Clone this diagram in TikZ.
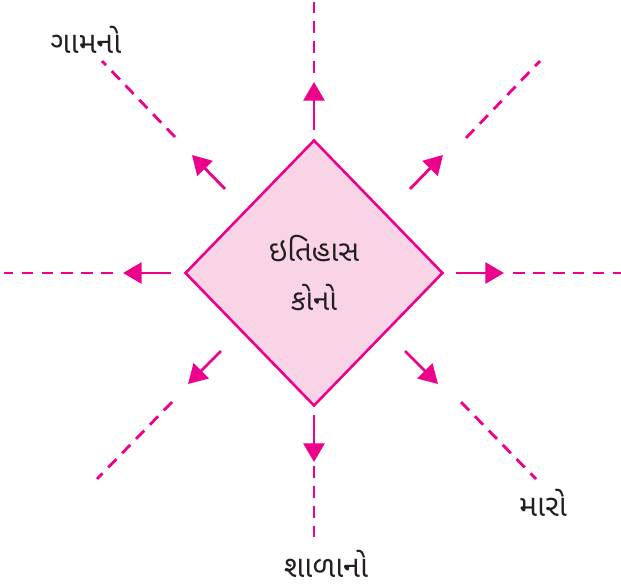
\documentclass[tikz,border=0pt]{standalone}
\usepackage{fontspec}
\newfontfamily\gujfont[Script=Gujarati]{Noto Sans Gujarati UI}
\usetikzlibrary{shapes.geometric, arrows.meta}
\definecolor{HubPink}{RGB}{236,0,140}
\definecolor{HubFill}{RGB}{249,212,230}
\definecolor{HubText}{RGB}{35,31,32}

\begin{document}
\begin{tikzpicture}[x=0.03cm, y=-0.03cm,
          hub/.style={diamond, draw=HubPink, fill=HubFill, line width=2.2pt,
                      minimum width=7.74cm, minimum height=7.98cm, inner sep=0pt,
                      font=\gujfont\fontsize{25}{42}\selectfont, text=HubText, align=center},
          word/.style={font=\gujfont\fontsize{26}{30}\selectfont, text=HubText, inner sep=0pt},
          ray/.style={-{Triangle[length=16pt, width=18pt]}, line width=2.4pt, HubPink},
          trail/.style={line width=2.4pt, HubPink, dash pattern=on 10pt off 7pt}
        ]
        \useasboundingbox (0,0) rectangle (621,587);

        \node[hub] (hub) at (314,273) {ઇતિહાસ\\કોનો};

        % Labels
        \node[word] (gam)   at (86,40)   {ગામનો};
        \node[word] (maro)  at (543,503) {મારો};
        \node[word] (shala) at (326,564) {શાળાનો};

        % Solid arrows (start, tip)
        \coordinate (n0) at (314,130); \coordinate (n1) at (314,82);
        \coordinate (s0) at (314,415); \coordinate (s1) at (314,462);
        \coordinate (w0) at (171,273); \coordinate (w1) at (123,273);
        \coordinate (e0) at (456,273); \coordinate (e1) at (504,273);
        \coordinate (nw0) at (225,189); \coordinate (nw1) at (192,155);
        \coordinate (ne0) at (410,189); \coordinate (ne1) at (443,155);
        \coordinate (sw0) at (221,351); \coordinate (sw1) at (188,384);
        \coordinate (se0) at (405,351); \coordinate (se1) at (438,384);

        \draw[ray] (n0) -- (n1);
        \draw[ray] (s0) -- (s1);
        \draw[ray] (w0) -- (w1);
        \draw[ray] (e0) -- (e1);
        \draw[ray] (nw0) -- (nw1);
        \draw[ray] (ne0) -- (ne1);
        \draw[ray] (sw0) -- (sw1);
        \draw[ray] (se0) -- (se1);

        % Dashed continuations
        \coordinate (n2) at (314,73);  \coordinate (n3) at (314,0);
        \coordinate (s2) at (314,466); \coordinate (s3) at (314,544);
        \coordinate (w2) at (113,273); \coordinate (w3) at (4,273);
        \coordinate (e2) at (513,273); \coordinate (e3) at (621,273);
        \coordinate (nw2) at (175,137); \coordinate (nw3) at (102,61);
        \coordinate (ne2) at (466,138); \coordinate (ne3) at (540,61);
        \coordinate (sw2) at (172,402); \coordinate (sw3) at (97,479);
        \coordinate (se2) at (461,402); \coordinate (se3) at (536,479);

        \draw[trail] (n2) -- (n3);
        \draw[trail] (s2) -- (s3);
        \draw[trail] (w2) -- (w3);
        \draw[trail] (e2) -- (e3);
        \draw[trail] (nw2) -- (nw3);
        \draw[trail] (ne2) -- (ne3);
        \draw[trail] (sw2) -- (sw3);
        \draw[trail] (se2) -- (se3);
      \end{tikzpicture}
\end{document}
